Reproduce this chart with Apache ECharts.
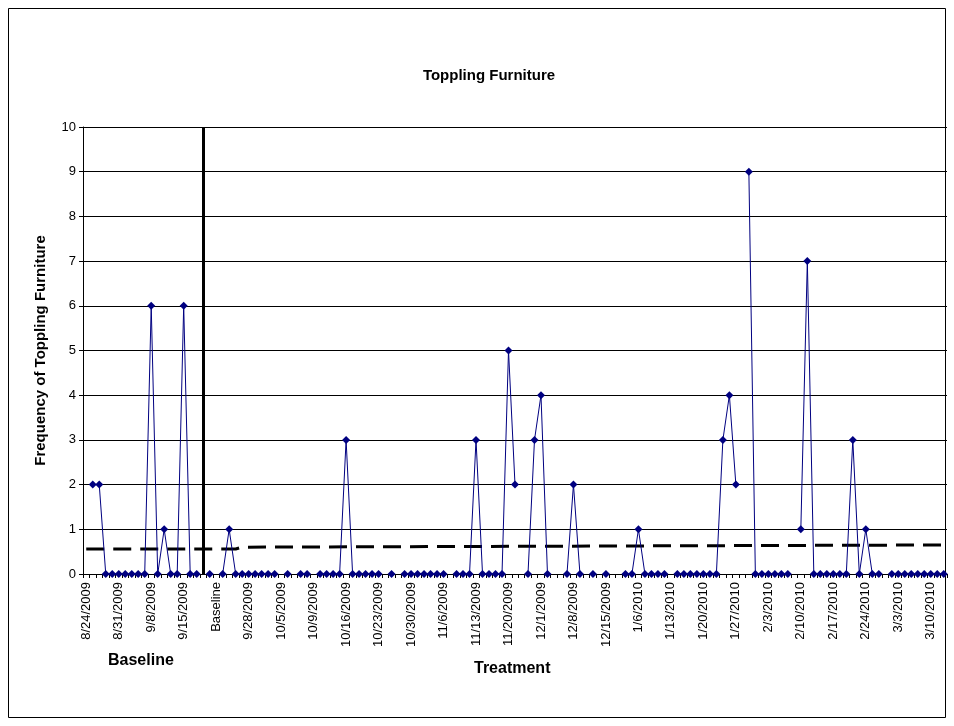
<!DOCTYPE html>
<html>
<head>
<meta charset="utf-8">
<script src="https://cdn.jsdelivr.net/npm/echarts@6/dist/echarts.min.js"></script>
<style>
html,body{margin:0;padding:0;background:#fff;}
#chart{width:954px;height:726px;}
</style>
</head>
<body>
<div id="chart"></div>
<script>
const chartTitle = 'Toppling Furniture';
const yAxisTitle = 'Frequency of Toppling Furniture';
const phaseLabels = ['Baseline', 'Treatment'];

const categories = [
  '8/24/2009','8/25/2009','8/26/2009','8/27/2009','8/28/2009',
  '8/31/2009','9/1/2009','9/2/2009','9/3/2009','9/4/2009',
  '9/8/2009','9/9/2009','9/10/2009','9/11/2009','9/14/2009',
  '9/15/2009','9/16/2009','9/17/2009','9/18/2009','9/21/2009',
  'Baseline','9/22/2009','9/23/2009','9/24/2009','9/25/2009',
  '9/28/2009','9/29/2009','9/30/2009','10/1/2009','10/2/2009',
  '10/5/2009','10/6/2009','10/7/2009','10/8/2009','10/8/2009',
  '10/9/2009','10/12/2009','10/13/2009','10/14/2009','10/15/2009',
  '10/16/2009','10/19/2009','10/20/2009','10/21/2009','10/22/2009',
  '10/23/2009','10/26/2009','10/27/2009','10/28/2009','10/29/2009',
  '10/30/2009','11/2/2009','11/3/2009','11/4/2009','11/5/2009',
  '11/6/2009','11/9/2009','11/10/2009','11/11/2009','11/12/2009',
  '11/13/2009','11/16/2009','11/17/2009','11/18/2009','11/19/2009',
  '11/20/2009','11/23/2009','11/24/2009','11/25/2009','11/30/2009',
  '12/1/2009','12/2/2009','12/3/2009','12/4/2009','12/7/2009',
  '12/8/2009','12/9/2009','12/10/2009','12/11/2009','12/14/2009',
  '12/15/2009','12/16/2009','12/17/2009','12/18/2009','1/5/2010',
  '1/6/2010','1/7/2010','1/8/2010','1/11/2010','1/12/2010',
  '1/13/2010','1/14/2010','1/15/2010','1/18/2010','1/19/2010',
  '1/20/2010','1/21/2010','1/22/2010','1/25/2010','1/26/2010',
  '1/27/2010','1/28/2010','1/29/2010','2/1/2010','2/2/2010',
  '2/3/2010','2/4/2010','2/5/2010','2/8/2010','2/9/2010',
  '2/10/2010','2/11/2010','2/12/2010','2/15/2010','2/16/2010',
  '2/17/2010','2/18/2010','2/19/2010','2/22/2010','2/23/2010',
  '2/24/2010','2/25/2010','2/26/2010','3/1/2010','3/2/2010',
  '3/3/2010','3/4/2010','3/5/2010','3/8/2010','3/9/2010',
  '3/10/2010','3/11/2010','3/12/2010'
];

const frequency = [
  null,2,2,0,0, 0,0,0,0,0,
  6,0,1,0,0, 6,0,0,null,0,
  null,0,1,0,0, 0,0,0,0,0,
  null,0,null,0,0, null,0,0,0,0,
  3,0,0,0,0, 0,null,0,null,0,
  0,0,0,0,0, 0,null,0,0,0,
  3,0,0,0,0, 5,2,null,0,3,
  4,0,null,null,0, 2,0,null,0,null,
  0,null,null,0,0, 1,0,0,0,0,
  null,0,0,0,0, 0,0,0,3,4,
  2,null,9,0,0, 0,0,0,0,null,
  1,7,0,0,0, 0,0,0,3,0,
  1,0,0,null,0, 0,0,0,0,0,
  0,0,0
];

// phase mean / trend line (dashed), read at its end points
const trendPoints = [[0,0.56],[23,0.56],[24,0.60],[132,0.65]];
const phaseChangeIndex = 18;

const yTicks = {min: 0, max: 10, interval: 1};

const trend = categories.map(() => null);
trendPoints.forEach(p => { trend[p[0]] = p[1]; });

const FONT = 'Arial, "Liberation Sans", sans-serif';
const chart = echarts.init(document.getElementById('chart'), null, {renderer: 'canvas'});
chart.setOption({
  animation: false,
  backgroundColor: '#ffffff',
  title: {
    text: chartTitle,
    left: 484, top: 63, textAlign: 'center',
    textStyle: {fontFamily: FONT, fontSize: 15, fontWeight: 'bold', color: '#000'}
  },
  grid: {left: 83, right: 7, top: 127, bottom: 152, containLabel: false},
  xAxis: {
    type: 'category',
    data: categories,
    boundaryGap: true,
    axisLine: {lineStyle: {color: '#000', width: 1}},
    axisTick: {show: true, interval: 0, length: 4, lineStyle: {color: '#000'}},
    axisLabel: {interval: 4, rotate: 90, fontFamily: FONT, fontSize: 13, color: '#000', margin: 8},
    splitLine: {show: false}
  },
  yAxis: {
    type: 'value',
    min: yTicks.min, max: yTicks.max, interval: yTicks.interval,
    name: yAxisTitle,
    nameLocation: 'middle',
    nameGap: 35,
    nameTextStyle: {fontFamily: FONT, fontSize: 15, fontWeight: 'bold', color: '#000'},
    axisLine: {show: true, lineStyle: {color: '#000', width: 1}},
    axisTick: {show: true, length: 4, lineStyle: {color: '#000'}},
    axisLabel: {fontFamily: FONT, fontSize: 13, color: '#000', margin: 7},
    splitLine: {show: true, lineStyle: {color: '#000', width: 1}}
  },
  graphic: [
    {type: 'rect', shape: {x: 8.5, y: 8.5, width: 937, height: 709}, style: {fill: 'none', stroke: '#000', lineWidth: 1}, z: -1},
    {type: 'text', left: 108, top: 653, style: {text: phaseLabels[0], font: 'bold 16px ' + FONT, fill: '#000'}},
    {type: 'text', left: 474, top: 661, style: {text: phaseLabels[1], font: 'bold 16px ' + FONT, fill: '#000'}}
  ],
  series: [
    {
      name: 'trend',
      type: 'line',
      data: trend,
      connectNulls: true,
      showSymbol: false,
      symbol: 'none',
      lineStyle: {color: '#000', width: 3, type: [18, 9]},
      z: 3
    },
    {
      name: 'frequency',
      type: 'line',
      data: frequency,
      connectNulls: false,
      symbol: 'diamond',
      symbolSize: 8,
      showAllSymbol: true,
      itemStyle: {color: '#000080'},
      lineStyle: {color: '#000080', width: 1},
      z: 4,
      markLine: {
        silent: true,
        symbol: 'none',
        label: {show: false},
        lineStyle: {color: '#000', width: 3, type: 'solid'},
        data: [{xAxis: phaseChangeIndex}]
      }
    }
  ]
});
</script>
</body>
</html>
